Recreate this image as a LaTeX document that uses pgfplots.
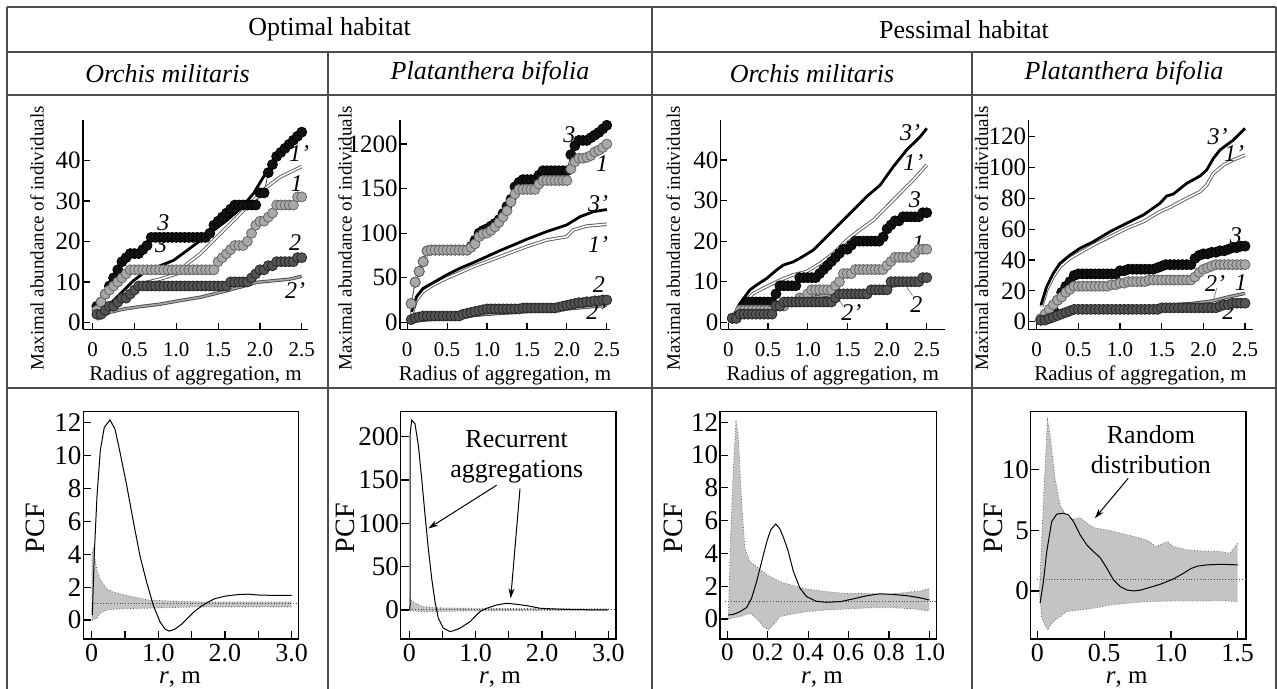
\documentclass[border=0pt]{standalone}
\usepackage{fontspec}
\setmainfont{Liberation Serif}
\usepackage{pgfplots}
\pgfplotsset{compat=1.18}
\usetikzlibrary{arrows.meta}
\definecolor{gridc}{gray}{0.3}
\definecolor{sone}{gray}{0.66}
\definecolor{stwo}{gray}{0.33}
\definecolor{sthree}{gray}{0.07}
\definecolor{bandc}{gray}{0.77}
\newcommand\lbl{\fontsize{12}{12}\selectfont\itshape}
\pgfplotsset{
  s1/.style={draw=black!60, line width=0.3pt, mark=*, mark size=2.5pt, mark options={fill=sone, draw=black!60, line width=0.4pt}},
  s2/.style={draw=black!80, line width=0.3pt, mark=*, mark size=2.5pt, mark options={fill=stwo, draw=black!85, line width=0.4pt}},
  s3/.style={draw=black, line width=0.3pt, mark=*, mark size=2.5pt, mark options={fill=sthree, draw=black, line width=0.4pt}},
  l3/.style={black, line width=1.4pt, no markers},
  l1/.style={draw=black!65, double=white, double distance=0.8pt, line width=0.45pt, no markers},
  l2/.style={draw=black!70, double=black!35, double distance=0.8pt, line width=0.45pt, no markers},
  toppanel/.style={
    scale only axis, anchor=south west, clip=false,
    axis lines=left, axis line style={-, line width=0.6pt},
    tick align=inside, major tick length=3.3pt,
    tick style={black, line width=0.6pt},
    xtick={0,0.5,1,1.5,2,2.5}, xticklabels={0,0.5,1.0,1.5,2.0,2.5},
    xticklabel style={font=\fontsize{10.5}{10.5}\selectfont},
    yticklabel style={font=\fontsize{12.5}{12.5}\selectfont},
    xticklabel shift=3pt, yticklabel shift=-2.4pt,
    /pgf/number format/assume math mode=true,
    xlabel={Radius of aggregation, m},
    ylabel={Maximal abundance of individuals},
    every axis x label/.style={at={(axis description cs:0.5,-0.218)}, anchor=center, font=\fontsize{10.5}{10.5}\selectfont},
    every axis y label/.style={at={(axis description cs:-0.204,0.434)}, rotate=90, anchor=center, font=\fontsize{9.5}{9.5}\selectfont},
  },
  pcfpanel/.style={
    scale only axis, anchor=south west,
    axis line style={line width=0.6pt},
    tick align=inside, major tick length=4pt, minor tick length=4pt,
    tick style={black, line width=0.6pt},
    xtick pos=bottom, ytick pos=left,
    xticklabel style={font=\fontsize{13}{13}\selectfont, inner sep=1pt},
    yticklabel style={font=\fontsize{13.5}{13.5}\selectfont},
    xticklabel shift=1.5pt, yticklabel shift=-2.6pt,
    /pgf/number format/assume math mode=true,
    ylabel={PCF}, xlabel={\textit{r}, m},
    every axis y label/.style={at={(axis description cs:-0.225,0.487)}, rotate=90, anchor=center, font=\fontsize{14}{14}\selectfont},
    every axis x label/.style={at={(axis description cs:0.45,-0.177)}, anchor=center, inner sep=1pt, font=\fontsize{12.5}{12.5}\selectfont},
  },
  band/.style={fill=bandc, draw=none, no markers},
  bedge/.style={densely dotted, black!60, line width=0.4pt, no markers},
  hline/.style={densely dotted, black!70, line width=0.4pt, no markers},
  pcf/.style={black, line width=0.5pt, no markers},
}
\begin{document}
\begin{tikzpicture}
\useasboundingbox (0,0) rectangle (638.5pt,344.5pt);
\begin{scope}[x=0.5pt,y=0.5pt]
  \draw[gridc, line width=0.75pt] (7,682)--(1276,682) (7,637)--(1276,637) (7,594)--(1276,594) (7,301)--(1276,301);
  \draw[gridc, line width=0.75pt] (7,682)--(7,0) (652,682)--(652,0) (1276,682)--(1276,0) (328,637)--(328,0) (972,637)--(972,0);
  \node[font=\fontsize{13}{14}\selectfont] at (329.5,659.5) {Optimal habitat};
  \node[font=\fontsize{13}{14}\selectfont] at (964,659.5) {Pessimal habitat};
  \node[font=\fontsize{13}{14}\selectfont\itshape] at (167.5,615.5) {Orchis militaris};
  \node[font=\fontsize{13}{14}\selectfont\itshape] at (490,615.5) {Platanthera bifolia};
  \node[font=\fontsize{13}{14}\selectfont\itshape] at (812,615.5) {Orchis militaris};
  \node[font=\fontsize{13}{14}\selectfont\itshape] at (1124,615.5) {Platanthera bifolia};
\end{scope}

% ---------- Panel 1: Orchis militaris, optimal ----------
\begin{axis}[toppanel, at={(41.5pt,179.85pt)}, width=112.5pt, height=104.65pt,
  xmin=-0.116, xmax=2.575, ymin=-1.7, ymax=50, ytick={0,10,20,30,40}]
\addplot[s3] coordinates {(0.05,4) (0.10,5) (0.15,7) (0.20,9) (0.25,11) (0.30,13) (0.35,15) (0.40,16) (0.45,17) (0.50,17) (0.55,17) (0.60,18) (0.65,19) (0.70,21) (0.75,21) (0.80,21) (0.85,21) (0.90,21) (0.95,21) (1.00,21) (1.05,21) (1.10,21) (1.15,21) (1.20,21) (1.25,21) (1.30,21) (1.35,21) (1.40,22) (1.45,24) (1.50,25) (1.55,26) (1.60,27) (1.65,28) (1.70,29) (1.75,29) (1.80,29) (1.85,29) (1.90,29) (1.95,29) (2.00,32) (2.05,32) (2.10,37) (2.15,39) (2.20,41) (2.25,42) (2.30,43) (2.35,44) (2.40,45) (2.45,46) (2.50,47)};
\addplot[s1] coordinates {(0.05,3) (0.10,5) (0.15,7) (0.20,8) (0.25,9) (0.30,10) (0.35,11) (0.40,12) (0.45,13) (0.50,13) (0.55,13) (0.60,13) (0.65,13) (0.70,13) (0.75,13) (0.80,13) (0.85,13) (0.90,13) (0.95,13) (1.00,13) (1.05,13) (1.10,13) (1.15,13) (1.20,13) (1.25,13) (1.30,13) (1.35,13) (1.40,13) (1.45,13) (1.50,15) (1.55,16) (1.60,17) (1.65,18) (1.70,19) (1.75,19) (1.80,19) (1.85,20) (1.90,22) (1.95,24) (2.00,25) (2.05,25) (2.10,26) (2.15,27) (2.20,29) (2.25,29) (2.30,29) (2.35,29) (2.40,29) (2.45,31) (2.50,31)};
\addplot[s2] coordinates {(0.05,2) (0.10,2) (0.15,3) (0.20,4) (0.25,4) (0.30,5) (0.35,6) (0.40,6) (0.45,7) (0.50,8) (0.55,9) (0.60,9) (0.65,9) (0.70,9) (0.75,9) (0.80,9) (0.85,9) (0.90,9) (0.95,9) (1.00,9) (1.05,9) (1.10,9) (1.15,9) (1.20,9) (1.25,9) (1.30,9) (1.35,9) (1.40,9) (1.45,9) (1.50,9) (1.55,9) (1.60,9) (1.65,10) (1.70,10) (1.75,10) (1.80,10) (1.85,10) (1.90,11) (1.95,12) (2.00,13) (2.05,13) (2.10,14) (2.15,14) (2.20,15) (2.25,15) (2.30,15) (2.35,15) (2.40,15) (2.45,16) (2.50,16)};
\addplot[l2] coordinates {(0.048,0.8) (0.207,2.5) (0.367,3.3) (0.566,3.9) (0.805,4.5) (1.045,5.4) (1.284,6.2) (1.523,7.4) (1.762,8.7) (1.962,9.9) (2.161,10.3) (2.36,10.7) (2.5,11.4)};
\addplot[l1] coordinates {(0.048,1.2) (0.207,3.7) (0.367,6.6) (0.566,9.5) (0.805,10.7) (1.005,12) (1.124,14.4) (1.284,16.9) (1.443,20.2) (1.603,23.5) (1.762,26.8) (1.922,30.1) (2.081,33.4) (2.241,35.9) (2.36,37.1) (2.5,38.5)};
\addplot[l3] coordinates {(0.048,1.2) (0.207,4.5) (0.327,7) (0.486,10.3) (0.646,12.8) (0.805,14) (0.965,15.3) (1.124,17.7) (1.284,20.2) (1.443,22.7) (1.603,25.2) (1.762,28) (1.922,31.8) (2.041,35.9) (2.2,40.4) (2.36,44.1) (2.5,47)};
\node[font=\lbl] at (axis cs:0.845,24.7) {3};
\node[font=\lbl] at (axis cs:0.865,19.2) {3'};
\node[font=\lbl] at (axis cs:2.468,41.6) {1'};
\node[font=\lbl] at (axis cs:2.44,34.2) {1};
\node[font=\lbl] at (axis cs:2.42,19.8) {2};
\node[font=\lbl] at (axis cs:2.42,7.8) {2'};
\end{axis}

% ---------- Panel 2: Platanthera bifolia, optimal ----------
\begin{axis}[toppanel, at={(200pt,179.85pt)}, width=105pt, height=104.65pt,
  xmin=-0.09, xmax=2.54, ymin=-7.85, ymax=226.9, ytick={0,50,100,150,200}, yticklabels={0,50,100,150,1200},
  ylabel style={at={(axis description cs:-0.262,0.434)}}]
\addplot[s3] coordinates {(0.05,21) (0.10,45) (0.15,57) (0.20,68) (0.25,80) (0.30,81) (0.35,81) (0.40,81) (0.45,81) (0.50,81) (0.55,81) (0.60,81) (0.65,81) (0.70,81) (0.75,81) (0.80,85) (0.85,92) (0.90,100) (0.95,103) (1.00,105) (1.05,108) (1.10,111) (1.15,115) (1.20,122) (1.25,130) (1.30,138) (1.35,152) (1.40,157) (1.45,160) (1.50,160) (1.55,160) (1.60,160) (1.65,165) (1.70,170) (1.75,170) (1.80,170) (1.85,170) (1.90,170) (1.95,170) (2.00,170) (2.05,188) (2.10,198) (2.15,204) (2.20,204) (2.25,204) (2.30,207) (2.35,210) (2.40,213) (2.45,217) (2.50,221)};
\addplot[s1] coordinates {(0.05,21) (0.10,45) (0.15,57) (0.20,68) (0.25,80) (0.30,81) (0.35,81) (0.40,81) (0.45,81) (0.50,81) (0.55,81) (0.60,81) (0.65,81) (0.70,81) (0.75,81) (0.80,84) (0.85,88) (0.90,96) (0.95,99) (1.00,100) (1.05,103) (1.10,107) (1.15,112) (1.20,118) (1.25,125) (1.30,135) (1.35,144) (1.40,149) (1.45,149) (1.50,149) (1.55,149) (1.60,149) (1.65,155) (1.70,159) (1.75,159) (1.80,159) (1.85,159) (1.90,159) (1.95,159) (2.00,159) (2.05,172) (2.10,180) (2.15,184) (2.20,184) (2.25,185) (2.30,187) (2.35,191) (2.40,193) (2.45,196) (2.50,200)};
\addplot[s2] coordinates {(0.05,3) (0.10,5) (0.15,6) (0.20,7) (0.25,7) (0.30,7) (0.35,7) (0.40,7) (0.45,7) (0.50,7) (0.55,7) (0.60,7) (0.65,7) (0.70,9) (0.75,10) (0.80,11) (0.85,12) (0.90,13) (0.95,14) (1.00,15) (1.05,15) (1.10,15) (1.15,15) (1.20,15) (1.25,15) (1.30,15) (1.35,15) (1.40,15) (1.45,16) (1.50,16) (1.55,16) (1.60,16) (1.65,16) (1.70,16) (1.75,16) (1.80,16) (1.85,16) (1.90,17) (1.95,18) (2.00,19) (2.05,20) (2.10,21) (2.15,22) (2.20,22) (2.25,23) (2.30,23) (2.35,24) (2.40,24) (2.45,25) (2.50,25)};
\addplot[l2] coordinates {(0.05,1) (0.5,5) (1.0,9) (1.5,12) (2.0,15) (2.5,19)};
\addplot[l1] coordinates {(0.054,8.2) (0.117,25) (0.2,34.4) (0.326,41.9) (0.493,49.3) (0.66,55.7) (0.828,62.4) (0.995,68) (1.162,73.6) (1.33,79.3) (1.497,84.9) (1.747,92.3) (1.998,96) (2.08,103.6) (2.25,108) (2.5,110)};
\addplot[l3] coordinates {(0.054,12) (0.117,28.8) (0.2,38.1) (0.326,44.5) (0.493,53.1) (0.66,60.6) (0.828,66.9) (0.995,73.6) (1.162,80.4) (1.33,86.7) (1.497,93.1) (1.747,101.7) (1.998,109.2) (2.166,118.5) (2.333,124.1) (2.5,126.5)};
\node[font=\lbl] at (axis cs:2.03,210) {3};
\node[font=\lbl] at (axis cs:2.44,177.6) {1};
\node[font=\lbl] at (axis cs:2.39,133.5) {3'};
\node[font=\lbl] at (axis cs:2.39,86.7) {1'};
\node[font=\lbl] at (axis cs:2.4,41.9) {2};
\node[font=\lbl] at (axis cs:2.37,12) {2'};
\end{axis}

% ---------- Panel 3: Orchis militaris, pessimal ----------
\begin{axis}[toppanel, at={(360.35pt,179.85pt)}, width=112.15pt, height=104.65pt,
  xmin=-0.096, xmax=2.73, ymin=-1.73, ymax=49.86, ytick={0,10,20,30,40},
  ylabel style={at={(axis description cs:-0.211,0.434)}}]
\addplot[s3] coordinates {(0.05,1) (0.10,1) (0.15,2) (0.20,4) (0.25,5) (0.30,5) (0.35,5) (0.40,5) (0.45,5) (0.50,5) (0.55,5) (0.60,7) (0.65,9) (0.70,9) (0.75,9) (0.80,9) (0.85,9) (0.90,11) (0.95,11) (1.00,11) (1.05,11) (1.10,11) (1.15,12) (1.20,13) (1.25,14) (1.30,15) (1.35,16) (1.40,17) (1.45,18) (1.50,18) (1.55,19) (1.60,20) (1.65,20) (1.70,20) (1.75,20) (1.80,20) (1.85,20) (1.90,20) (1.95,21) (2.00,23) (2.05,24) (2.10,25) (2.15,25) (2.20,26) (2.25,26) (2.30,26) (2.35,26) (2.40,26) (2.45,27) (2.50,27)};
\addplot[s1] coordinates {(0.05,1) (0.10,1) (0.15,3) (0.20,3) (0.25,3) (0.30,3) (0.35,3) (0.40,3) (0.45,3) (0.50,3) (0.55,3) (0.60,4) (0.65,4) (0.70,4) (0.75,5) (0.80,5) (0.85,5) (0.90,6) (0.95,6) (1.00,7) (1.05,8) (1.10,8) (1.15,8) (1.20,8) (1.25,8) (1.30,8) (1.35,9) (1.40,10) (1.45,12) (1.50,12) (1.55,12) (1.60,13) (1.65,13) (1.70,13) (1.75,13) (1.80,13) (1.85,13) (1.90,13) (1.95,13) (2.00,14) (2.05,15) (2.10,16) (2.15,16) (2.20,16) (2.25,16) (2.30,16) (2.35,17) (2.40,18) (2.45,18) (2.50,18)};
\addplot[s2] coordinates {(0.05,1) (0.10,1) (0.15,2) (0.20,2) (0.25,2) (0.30,2) (0.35,2) (0.40,2) (0.45,2) (0.50,2) (0.55,2) (0.60,4) (0.65,4) (0.70,5) (0.75,5) (0.80,5) (0.85,5) (0.90,5) (0.95,5) (1.00,5) (1.05,5) (1.10,5) (1.15,5) (1.20,5) (1.25,5) (1.30,5) (1.35,6) (1.40,7) (1.45,7) (1.50,7) (1.55,7) (1.60,7) (1.65,7) (1.70,7) (1.75,7) (1.80,8) (1.85,8) (1.90,8) (1.95,8) (2.00,8) (2.05,10) (2.10,10) (2.15,10) (2.20,10) (2.25,10) (2.30,10) (2.35,10) (2.40,10) (2.45,11) (2.50,11)};
\addplot[l2] coordinates {(0.084,0.6) (0.189,3) (0.357,3.9) (0.567,4.7) (0.777,5.5) (0.987,5.9) (1.24,6.7) (1.408,7.1) (1.618,7.6) (1.828,8) (2.038,8.8) (2.248,9.6) (2.5,10.8)};
\addplot[l1] coordinates {(0.084,0.6) (0.189,4.7) (0.315,7.1) (0.483,8.8) (0.651,10.4) (0.819,11.7) (0.987,12.5) (1.155,14.5) (1.324,17) (1.492,20.3) (1.66,22.8) (1.828,25.2) (1.996,28.5) (2.164,31.8) (2.332,35.1) (2.5,38.8)};
\addplot[l3] coordinates {(0.042,0.6) (0.147,4.7) (0.273,8) (0.357,9.2) (0.483,10.8) (0.609,12.9) (0.693,14.1) (0.819,14.9) (0.903,15.8) (1.071,17.8) (1.24,21.1) (1.408,24.4) (1.576,27.7) (1.744,31) (1.912,33.8) (2.08,38.4) (2.248,42.5) (2.416,45.7) (2.5,47.8)};
\draw[black!50, line width=0.4pt] (axis cs:1.45,3.9) -- (axis cs:1.39,5.7);
\draw[black!50, line width=0.4pt] (axis cs:2.32,6.6) -- (axis cs:2.25,8.6);
\node[font=\lbl] at (axis cs:2.29,46.7) {3'};
\node[font=\lbl] at (axis cs:2.33,39.3) {1'};
\node[font=\lbl] at (axis cs:2.35,30.1) {3};
\node[font=\lbl] at (axis cs:2.39,19.3) {1};
\node[font=\lbl] at (axis cs:2.37,4.4) {2};
\node[font=\lbl] at (axis cs:1.55,2.4) {2'};
\end{axis}

% ---------- Panel 4: Platanthera bifolia, pessimal ----------
\begin{axis}[toppanel, at={(514.15pt,179.85pt)}, width=112.2pt, height=104.65pt,
  xmin=-0.1, xmax=2.592, ymin=-4.93, ymax=130.8, ytick={0,20,40,60,80,100,120},
  ylabel style={at={(axis description cs:-0.208,0.434)}}]
\addplot[s3] coordinates {(0.05,1) (0.10,3) (0.15,5) (0.20,8) (0.25,14) (0.30,19) (0.35,23) (0.40,26) (0.45,30) (0.50,31) (0.55,31) (0.60,31) (0.65,31) (0.70,31) (0.75,31) (0.80,31) (0.85,31) (0.90,31) (0.95,31) (1.00,33) (1.05,33) (1.10,34) (1.15,34) (1.20,34) (1.25,34) (1.30,34) (1.35,34) (1.40,34) (1.45,35) (1.50,36) (1.55,37) (1.60,37) (1.65,37) (1.70,37) (1.75,37) (1.80,37) (1.85,37) (1.90,41) (1.95,43) (2.00,44) (2.05,44) (2.10,45) (2.15,45) (2.20,46) (2.25,46) (2.30,47) (2.35,48) (2.40,48) (2.45,49) (2.50,49)};
\addplot[s1] coordinates {(0.05,2) (0.10,5) (0.15,8) (0.20,11) (0.25,14) (0.30,16) (0.35,19) (0.40,21) (0.45,23) (0.50,23) (0.55,23) (0.60,23) (0.65,23) (0.70,23) (0.75,23) (0.80,23) (0.85,23) (0.90,24) (0.95,24) (1.00,25) (1.05,25) (1.10,26) (1.15,26) (1.20,26) (1.25,26) (1.30,26) (1.35,27) (1.40,27) (1.45,27) (1.50,27) (1.55,27) (1.60,27) (1.65,27) (1.70,27) (1.75,27) (1.80,27) (1.85,27) (1.90,29) (1.95,32) (2.00,34) (2.05,35) (2.10,36) (2.15,37) (2.20,37) (2.25,37) (2.30,37) (2.35,37) (2.40,37) (2.45,37) (2.50,37)};
\addplot[s2] coordinates {(0.05,1) (0.10,1) (0.15,2) (0.20,3) (0.25,4) (0.30,5) (0.35,6) (0.40,7) (0.45,8) (0.50,8) (0.55,8) (0.60,8) (0.65,8) (0.70,8) (0.75,8) (0.80,8) (0.85,8) (0.90,8) (0.95,8) (1.00,8) (1.05,8) (1.10,8) (1.15,8) (1.20,8) (1.25,8) (1.30,8) (1.35,8) (1.40,8) (1.45,8) (1.50,9) (1.55,9) (1.60,9) (1.65,9) (1.70,9) (1.75,9) (1.80,9) (1.85,9) (1.90,9) (1.95,9) (2.00,9) (2.05,9) (2.10,9) (2.15,9) (2.20,10) (2.25,11) (2.30,11) (2.35,12) (2.40,12) (2.45,12) (2.50,12)};
\addplot[l2] coordinates {(0.04,0.6) (0.28,5.4) (0.68,7.6) (1.08,8.6) (1.48,10.2) (1.88,11.9) (2.12,13.6) (2.28,15.8) (2.5,18.4)};
\addplot[l1] coordinates {(0.06,9.7) (0.12,20.5) (0.2,29.2) (0.28,35.7) (0.4,41.1) (0.52,44.8) (0.68,49.7) (0.88,55.1) (1.08,60.5) (1.28,64.9) (1.48,71.4) (1.6,74.2) (1.8,80) (1.96,84.3) (2.04,88.6) (2.12,96.2) (2.24,101.6) (2.36,104.9) (2.5,108.1)};
\addplot[l3] coordinates {(0.052,10.8) (0.12,22.7) (0.2,31.4) (0.28,37.8) (0.4,43.2) (0.52,47.6) (0.68,51.9) (0.88,58.4) (1.08,63.8) (1.28,69.2) (1.48,76.8) (1.56,81.5) (1.64,82.8) (1.8,89.7) (1.96,94.5) (2.04,98.4) (2.12,105.9) (2.2,111.4) (2.36,117.8) (2.5,125.4)};
\draw[black!50, line width=0.4pt] (axis cs:2.16,21.6) -- (axis cs:2.12,14);
\draw[black!50, line width=0.4pt] (axis cs:2.26,9.7) -- (axis cs:2.2,11.9);
\node[font=\lbl] at (axis cs:2.17,120) {3'};
\node[font=\lbl] at (axis cs:2.37,109) {1'};
\node[font=\lbl] at (axis cs:2.39,55.6) {3};
\node[font=\lbl] at (axis cs:2.45,25.3) {1};
\node[font=\lbl] at (axis cs:2.14,24.9) {2'};
\node[font=\lbl] at (axis cs:2.3,6.5) {2};
\end{axis}

% ---------- Panel 5: PCF Orchis optimal ----------
\begin{axis}[pcfpanel, at={(41.65pt,25pt)}, width=107.5pt, height=113.65pt,
  xmin=-0.125, xmax=3.1, ymin=-1.15, ymax=12.65,
  xtick={0,1,2,3}, xticklabels={0,1.0,2.0,3.0}, minor xtick={0.5,1.5,2.5},
  ytick={0,2,4,6,8,10,12}]
\addplot[band] coordinates {(0.005,4.0) (0.025,4.4) (0.075,3.1) (0.125,2.5) (0.225,1.9) (0.325,1.7) (0.425,1.6) (0.625,1.4) (0.875,1.2) (1.125,1.17) (1.625,1.1) (2.125,1.1) (2.625,1.1) (3.0,1.1) (3.0,0.8) (2.125,0.8) (1.625,0.8) (1.125,0.75) (0.625,0.7) (0.375,0.67) (0.225,0.6) (0.125,0.4) (0.075,0.1) (0.005,0)};
\addplot[bedge] coordinates {(0.005,0) (0.005,4.0) (0.025,4.4) (0.075,3.1) (0.125,2.5) (0.225,1.9) (0.325,1.7) (0.425,1.6) (0.625,1.4) (0.875,1.2) (1.125,1.17) (1.625,1.1) (2.125,1.1) (2.625,1.1) (3.0,1.1)};
\addplot[bedge] coordinates {(0.005,0) (0.075,0.1) (0.125,0.4) (0.225,0.6) (0.375,0.67) (0.625,0.7) (1.125,0.75) (1.625,0.8) (2.125,0.8) (3.0,0.8)};
\addplot[hline] coordinates {(0,1) (3.1,1)};
\addplot[pcf] coordinates {(0.01,0.3) (0.04,4) (0.08,7.5) (0.13,10.3) (0.19,11.7) (0.275,12.15) (0.35,11.6) (0.425,10.2) (0.525,8.2) (0.625,6.0) (0.725,3.9) (0.825,2.3) (0.925,0.9) (1.025,-0.1) (1.1,-0.55) (1.165,-0.67) (1.25,-0.55) (1.35,-0.25) (1.45,0.15) (1.55,0.55) (1.65,0.85) (1.75,1.1) (1.85,1.3) (2.0,1.45) (2.2,1.55) (2.35,1.57) (2.5,1.52) (2.7,1.5) (2.85,1.5) (3.0,1.5)};
\end{axis}

% ---------- Panel 6: PCF Platanthera optimal ----------
\begin{axis}[pcfpanel, at={(200.35pt,25pt)}, width=107.65pt, height=113.65pt,
  xmin=-0.13, xmax=3.115, ymin=-33.5, ymax=228.8,
  xtick={0,1,2,3}, xticklabels={0,1.0,2.0,3.0}, minor xtick={0.5,1.5,2.5},
  ytick={0,50,100,150,200},
  ylabel style={at={(axis description cs:-0.259,0.487)}},
  xlabel style={at={(axis description cs:0.461,-0.177)}}]
\addplot[band] coordinates {(0.01,13) (0.03,11) (0.085,8) (0.2,4) (0.4,2.5) (0.8,2) (1.5,1.7) (2.2,1.5) (3.0,1.3) (3.0,-0.3) (2.0,-0.5) (1.2,-0.8) (0.6,-1.5) (0.2,-2) (0.01,-1)};
\addplot[bedge] coordinates {(0.01,-1) (0.01,13) (0.03,11) (0.085,8) (0.2,4) (0.4,2.5) (0.8,2) (1.5,1.7) (2.2,1.5) (3.0,1.3)};
\addplot[bedge] coordinates {(0.01,-1) (0.2,-2) (0.6,-1.5) (1.2,-0.8) (2.0,-0.5) (3.0,-0.3)};
\addplot[hline] coordinates {(0,1) (3.115,1)};
\addplot[pcf] coordinates {(0.01,0) (0.012,202) (0.035,219) (0.085,215) (0.136,190) (0.186,152) (0.236,110) (0.286,71) (0.337,36.5) (0.387,9.6) (0.437,-9.6) (0.513,-21) (0.613,-25) (0.663,-24) (0.764,-21) (0.915,-13.5) (1.065,-2) (1.166,2) (1.317,5.8) (1.467,7.7) (1.568,7) (1.769,5) (1.970,2) (2.171,1.2) (2.472,0.4) (3.0,0)};
\node[font=\fontsize{13}{15}\selectfont, align=center] at (axis cs:1.618,176.9) {Recurrent\\aggregations};
\draw[line width=0.5pt, -{Stealth[length=5pt,width=3pt]}] (axis cs:1.317,144) -- (axis cs:0.286,94);
\draw[line width=0.5pt, -{Stealth[length=5pt,width=3pt]}] (axis cs:1.668,140) -- (axis cs:1.528,13.5);
\end{axis}

% ---------- Panel 7: PCF Orchis pessimal ----------
\begin{axis}[pcfpanel, at={(360pt,25pt)}, width=108.35pt, height=113.65pt,
  xmin=-0.036, xmax=1.036, ymin=-1.22, ymax=12.65,
  xtick={0,0.2,0.4,0.6,0.8,1.0}, xticklabels={0,0.2,0.4,0.6,0.8,1.0},
  xticklabel style={font=\fontsize{12.5}{12.5}\selectfont, inner sep=0.5pt},
  ytick={0,2,4,6,8,10,12},
  ylabel style={at={(axis description cs:-0.215,0.487)}},
  xlabel style={at={(axis description cs:0.47,-0.18)}, inner sep=0.5pt}]
\addplot[band] coordinates {(0.005,0) (0.0165,5.1) (0.03,9.2) (0.043,12.1) (0.054,11.2) (0.071,7.15) (0.087,4.3) (0.112,3.5) (0.145,3.2) (0.195,2.7) (0.26,2.28) (0.327,2.03) (0.393,1.83) (0.49,1.67) (0.59,1.56) (0.69,1.56) (0.79,1.5) (0.888,1.63) (0.954,1.7) (1.0,1.87) (1.0,0.49) (0.92,0.61) (0.82,0.69) (0.72,0.69) (0.59,0.61) (0.49,0.55) (0.393,0.45) (0.31,0.28) (0.26,0.14) (0.228,-0.37) (0.203,-0.67) (0.178,-0.47) (0.145,0.04) (0.112,0.35) (0.063,0.14) (0.03,0.08) (0.005,0)};
\addplot[bedge] coordinates {(0.005,0) (0.0165,5.1) (0.03,9.2) (0.043,12.1) (0.054,11.2) (0.071,7.15) (0.087,4.3) (0.112,3.5) (0.145,3.2) (0.195,2.7) (0.26,2.28) (0.327,2.03) (0.393,1.83) (0.49,1.67) (0.59,1.56) (0.69,1.56) (0.79,1.5) (0.888,1.63) (0.954,1.7) (1.0,1.87)};
\addplot[bedge] coordinates {(0.005,0) (0.03,0.08) (0.063,0.14) (0.112,0.35) (0.145,0.04) (0.178,-0.47) (0.203,-0.67) (0.228,-0.37) (0.26,0.14) (0.31,0.28) (0.393,0.45) (0.49,0.55) (0.59,0.61) (0.72,0.69) (0.82,0.69) (0.92,0.61) (1.0,0.49)};
\addplot[hline] coordinates {(-0.01,1.05) (1.036,1.05)};
\addplot[pcf] coordinates {(0.005,0.25) (0.03,0.28) (0.063,0.45) (0.096,0.7) (0.12,1.26) (0.145,2.28) (0.17,3.5) (0.195,4.7) (0.215,5.45) (0.24,5.8) (0.26,5.5) (0.28,4.9) (0.3,4.2) (0.327,2.9) (0.36,1.87) (0.393,1.36) (0.44,1.08) (0.49,1.02) (0.56,1.06) (0.62,1.22) (0.69,1.42) (0.756,1.54) (0.82,1.5) (0.89,1.42) (0.95,1.3) (1.0,1.16)};
\end{axis}

% ---------- Panel 8: PCF Platanthera pessimal ----------
\begin{axis}[pcfpanel, at={(515.35pt,25pt)}, width=107.65pt, height=113.65pt,
  xmin=-0.05, xmax=1.562, ymin=-3.97, ymax=14.8,
  xtick={0,0.5,1,1.5}, xticklabels={0,0.5,1.0,1.5},
  ytick={0,5,10},
  ylabel style={at={(axis description cs:-0.174,0.487)}},
  xlabel style={at={(axis description cs:0.446,-0.177)}}]
\addplot[band] coordinates {(0.015,0) (0.045,7.4) (0.075,14.1) (0.095,12.9) (0.132,9.3) (0.17,7.1) (0.22,6.1) (0.27,5.9) (0.32,6.06) (0.37,5.6) (0.42,5.23) (0.52,5.04) (0.62,4.77) (0.72,4.5) (0.82,4.2) (0.89,3.66) (0.97,4.08) (1.02,3.66) (1.12,3.39) (1.22,3.3) (1.37,3.25) (1.44,3.11) (1.5,3.94) (1.5,-0.88) (1.37,-0.8) (1.22,-0.83) (1.02,-0.83) (0.82,-0.88) (0.67,-1.02) (0.544,-1.16) (0.42,-1.43) (0.32,-1.57) (0.22,-1.7) (0.12,-2.53) (0.075,-3.22) (0.032,-2.26) (0.015,0)};
\addplot[bedge] coordinates {(0.015,0) (0.045,7.4) (0.075,14.1) (0.095,12.9) (0.132,9.3) (0.17,7.1) (0.22,6.1) (0.27,5.9) (0.32,6.06) (0.37,5.6) (0.42,5.23) (0.52,5.04) (0.62,4.77) (0.72,4.5) (0.82,4.2) (0.89,3.66) (0.97,4.08) (1.02,3.66) (1.12,3.39) (1.22,3.3) (1.37,3.25) (1.44,3.11) (1.5,3.94)};
\addplot[bedge] coordinates {(0.015,0) (0.032,-2.26) (0.075,-3.22) (0.12,-2.53) (0.22,-1.7) (0.32,-1.57) (0.42,-1.43) (0.544,-1.16) (0.67,-1.02) (0.82,-0.88) (1.02,-0.83) (1.22,-0.83) (1.37,-0.8) (1.5,-0.88)};
\addplot[hline] coordinates {(0,0.92) (1.562,0.92)};
\addplot[pcf] coordinates {(0.02,-1.02) (0.045,0.77) (0.07,3.25) (0.107,5.73) (0.145,6.34) (0.195,6.42) (0.232,6.28) (0.27,5.73) (0.32,4.63) (0.37,3.8) (0.42,3.25) (0.47,2.75) (0.52,1.87) (0.57,0.91) (0.62,0.36) (0.67,0.08) (0.72,0) (0.77,0.06) (0.82,0.22) (0.92,0.55) (1.02,0.99) (1.1,1.5) (1.15,1.85) (1.2,2.05) (1.27,2.15) (1.37,2.2) (1.5,2.15)};
\node[font=\fontsize{13}{15}\selectfont, align=center] at (axis cs:0.85,11.65) {Random\\distribution};
\draw[line width=0.5pt, -{Stealth[length=5pt,width=3pt]}] (axis cs:0.68,9.3) -- (axis cs:0.43,6.0);
\end{axis}
\end{tikzpicture}
\end{document}
